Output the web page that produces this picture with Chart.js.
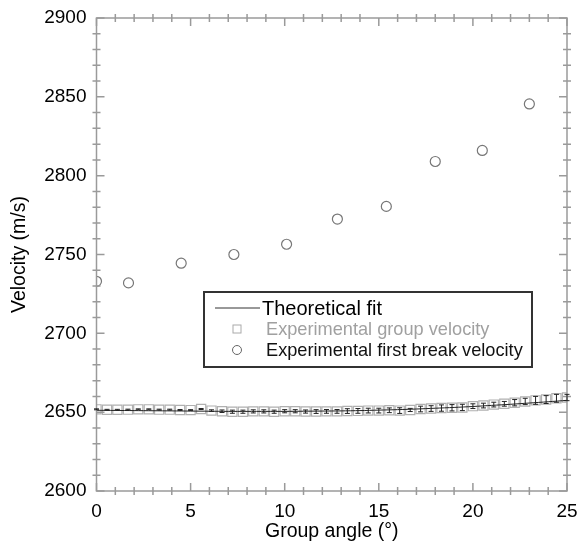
<!DOCTYPE html>
<html>
<head>
<meta charset="utf-8">
<script src="https://cdn.jsdelivr.net/npm/chart.js@4"></script>
<style>
    html, body { margin: 0; padding: 0; background: #fff; overflow: hidden; }
    #wrap { width: 578px; height: 546px; }
    canvas { display: block; }
</style>
</head>
<body>
<div id="wrap"><canvas id="velocityChart"></canvas></div>
<script>
// Theoretical fit
const fitAngles = [0, 1, 2, 3, 4, 5, 6, 7, 8, 9, 10, 11, 12, 13, 14, 15, 16, 17, 18, 19, 20, 21, 22, 23, 24, 25];
const fitVelocity = [2651.2, 2651.1, 2651.0, 2650.9, 2650.8, 2650.7, 2650.6, 2650.5, 2650.5, 2650.5, 2650.5,
    2650.6, 2650.7, 2650.8, 2651.0, 2651.3, 2651.6, 2652.0, 2652.5, 2653.0, 2653.6, 2654.3, 2655.0, 2655.8, 2656.6, 2657.5];

// Experimental group velocity (with error)
const groupAngles = [0, 0.56, 1.11, 1.67, 2.22, 2.78, 3.33, 3.89, 4.44, 5.0, 5.56, 6.11, 6.67, 7.22, 7.78,
    8.33, 8.89, 9.44, 10.0, 10.56, 11.11, 11.67, 12.22, 12.78, 13.33, 13.89, 14.44, 15.0, 15.56, 16.11,
    16.67, 17.22, 17.78, 18.33, 18.89, 19.44, 20.0, 20.56, 21.11, 21.67, 22.22, 22.78, 23.33, 23.89, 24.44, 25.0];
const groupVelocity = [2651.8, 2651.5, 2651.5, 2651.6, 2651.8, 2651.8, 2651.6, 2651.6, 2651.4, 2651.3,
    2652.0, 2651.0, 2650.6, 2650.3, 2650.3, 2650.5, 2650.5, 2650.3, 2650.6, 2650.6, 2650.4, 2650.4,
    2650.5, 2650.5, 2650.7, 2650.8, 2651.0, 2651.0, 2651.2, 2651.0, 2651.4, 2652.0, 2652.3, 2652.6,
    2652.8, 2653.0, 2653.8, 2654.2, 2654.8, 2655.3, 2656.0, 2656.8, 2657.5, 2658.0, 2658.8, 2659.3];
const groupError = [0.3, 0.3, 0.3, 0.3, 0.3, 0.3, 0.3, 0.3, 0.3, 0.3, 0.3, 0.5, 0.8, 1.0, 1.0,
    1.0, 1.0, 1.0, 1.0, 1.0, 1.0, 1.2, 1.2, 1.2, 1.5, 1.5, 1.5, 1.5, 1.5, 1.8, 1.0, 1.8, 1.8, 2.0,
    2.0, 2.0, 1.5, 1.5, 1.5, 1.5, 2.0, 2.0, 2.5, 2.5, 2.5, 2.0];

// Experimental first break velocity
const breakAngles = [0, 1.7, 4.5, 7.3, 10.1, 12.8, 15.4, 18.0, 20.5, 23.0];
const breakVelocity = [2733, 2732, 2744.5, 2750, 2756.5, 2772.5, 2780.5, 2809, 2816, 2845.5];

// Axis ticks
const xMajorTicks = [0, 5, 10, 15, 20, 25];
const yMajorTicks = [2600, 2650, 2700, 2750, 2800, 2850, 2900];

const FONT = '"Liberation Sans", Arial, Helvetica, sans-serif';
const AXIS_GREY = '#9a9a9a';

function toPoints(xs, ys) {
    return xs.map((x, i) => ({ x: x, y: ys[i] }));
}

// Frame with inward major ticks and crossing minor ticks on all four sides
const framePlugin = {
    id: 'frame',
    afterDatasetsDraw(chart) {
        const { ctx, chartArea: a, scales: { x, y } } = chart;
        ctx.save();
        ctx.strokeStyle = AXIS_GREY;
        ctx.lineWidth = 1.5;
        ctx.strokeRect(a.left, a.top, a.right - a.left, a.bottom - a.top);
        ctx.beginPath();
        for (let v = x.min; v <= x.max; v += 1) {
            const px = x.getPixelForValue(v);
            if (xMajorTicks.includes(v)) {
                ctx.moveTo(px, a.bottom); ctx.lineTo(px, a.bottom - 8);
                ctx.moveTo(px, a.top); ctx.lineTo(px, a.top + 8);
            } else {
                ctx.moveTo(px, a.bottom + 4); ctx.lineTo(px, a.bottom - 4);
                ctx.moveTo(px, a.top - 4); ctx.lineTo(px, a.top + 4);
            }
        }
        for (let v = y.min; v <= y.max; v += 10) {
            const py = y.getPixelForValue(v);
            if (yMajorTicks.includes(v)) {
                ctx.moveTo(a.left, py); ctx.lineTo(a.left + 8, py);
                ctx.moveTo(a.right, py); ctx.lineTo(a.right - 8, py);
            } else {
                ctx.moveTo(a.left - 4, py); ctx.lineTo(a.left + 4, py);
                ctx.moveTo(a.right - 4, py); ctx.lineTo(a.right + 4, py);
            }
        }
        ctx.stroke();
        ctx.restore();
    }
};

// Error bars on the group velocity squares
const errorBarPlugin = {
    id: 'errorBars',
    afterDatasetsDraw(chart) {
        const { ctx, scales: { x, y } } = chart;
        ctx.save();
        ctx.strokeStyle = '#222';
        ctx.lineWidth = 1;
        ctx.beginPath();
        groupAngles.forEach((g, i) => {
            const px = x.getPixelForValue(g);
            const top = y.getPixelForValue(groupVelocity[i] + groupError[i]);
            const bot = y.getPixelForValue(groupVelocity[i] - groupError[i]);
            ctx.moveTo(px, top); ctx.lineTo(px, bot);
            ctx.moveTo(px - 2.5, top); ctx.lineTo(px + 2.5, top);
            ctx.moveTo(px - 2.5, bot); ctx.lineTo(px + 2.5, bot);
        });
        ctx.stroke();
        ctx.restore();
    }
};

// Boxed legend inside the plot area
const boxLegendPlugin = {
    id: 'boxLegend',
    afterDraw(chart) {
        const { ctx } = chart;
        const ds = chart.data.datasets;
        const box = { left: 204, top: 292, right: 532, bottom: 367 };
        ctx.save();
        ctx.fillStyle = '#fff';
        ctx.fillRect(box.left, box.top, box.right - box.left, box.bottom - box.top);
        ctx.strokeStyle = '#333';
        ctx.lineWidth = 2;
        ctx.strokeRect(box.left, box.top, box.right - box.left, box.bottom - box.top);

        ctx.textBaseline = 'middle';
        ctx.textAlign = 'left';

        // Line sample
        ctx.strokeStyle = '#333';
        ctx.lineWidth = 1;
        ctx.beginPath();
        ctx.moveTo(215, 308); ctx.lineTo(260, 308);
        ctx.stroke();
        ctx.fillStyle = '#000';
        ctx.font = '20px ' + FONT;
        ctx.fillText(ds[0].label, 262, 309);

        // Square sample
        ctx.strokeStyle = '#aaa';
        ctx.strokeRect(233, 325, 8, 8);
        ctx.fillStyle = '#a0a0a0';
        ctx.font = '18.2px ' + FONT;
        ctx.fillText(ds[1].label, 266, 330);

        // Circle sample
        ctx.strokeStyle = '#666';
        ctx.beginPath();
        ctx.arc(237, 350, 4.5, 0, Math.PI * 2);
        ctx.stroke();
        ctx.fillStyle = '#111';
        ctx.fillText(ds[2].label, 266, 351);
        ctx.restore();
    }
};

new Chart(document.getElementById('velocityChart'), {
    type: 'scatter',
    data: {
        datasets: [{
            label: 'Theoretical fit',
            data: toPoints(fitAngles, fitVelocity),
            showLine: true,
            borderColor: '#222',
            borderWidth: 1,
            pointRadius: 0,
            tension: 0.3,
            order: 0
        }, {
            label: 'Experimental group velocity',
            data: toPoints(groupAngles, groupVelocity),
            pointStyle: 'rect',
            pointRadius: 6.5,
            borderColor: '#b0b0b0',
            backgroundColor: 'rgba(0,0,0,0)',
            borderWidth: 1.2,
            order: 1
        }, {
            label: 'Experimental first break velocity',
            data: toPoints(breakAngles, breakVelocity),
            pointStyle: 'circle',
            pointRadius: 5,
            borderColor: '#777',
            backgroundColor: 'rgba(0,0,0,0)',
            borderWidth: 1.2,
            order: 2
        }]
    },
    options: {
        responsive: true,
        maintainAspectRatio: false,
        animation: false,
        layout: { padding: { top: 18, right: 11, left: 0, bottom: 0 } },
        plugins: {
            legend: { display: false },
            tooltip: { enabled: false }
        },
        scales: {
            x: {
                type: 'linear',
                min: 0,
                max: 25,
                grid: { display: false, drawTicks: false },
                border: { display: false },
                afterBuildTicks: s => { s.ticks = xMajorTicks.map(v => ({ value: v })); },
                afterFit: s => { s.height = 55; s.paddingLeft = 0; s.paddingRight = 0; },
                ticks: { color: '#000', padding: 9, maxRotation: 0, font: { family: FONT, size: 19 } },
                title: { display: true, text: 'Group angle (°)', color: '#000', padding: { top: 0, bottom: 3 }, font: { family: FONT, size: 19.5 } }
            },
            y: {
                type: 'linear',
                min: 2600,
                max: 2900,
                grid: { display: false, drawTicks: false },
                border: { display: false },
                afterBuildTicks: s => { s.ticks = yMajorTicks.map(v => ({ value: v })); },
                afterFit: s => { s.width = 96.5; s.paddingTop = 0; s.paddingBottom = 0; },
                ticks: { color: '#000', padding: 10, font: { family: FONT, size: 19 }, callback: v => String(v) },
                title: { display: true, text: 'Velocity (m/s)', color: '#000', padding: { top: 8, bottom: 0 }, font: { family: FONT, size: 19.5 } }
            }
        }
    },
    plugins: [framePlugin, errorBarPlugin, boxLegendPlugin]
});
</script>
</body>
</html>
